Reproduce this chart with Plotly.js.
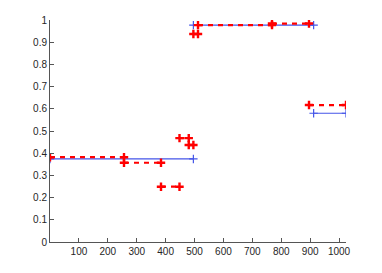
<!DOCTYPE html>
<html><head><meta charset="utf-8">
<script src="https://cdn.plot.ly/plotly-3.0.1.min.js"></script>
<style>html,body{margin:0;padding:0;background:#fff}#c{width:382px;height:273px}</style>
</head><body><div id="c"></div>
<script>
// Red (dashed) piecewise segments
const redStarts = [0, 256, 384, 448, 480, 496, 512, 768, 896];
const redEnds   = [256, 384, 448, 480, 496, 512, 768, 896, 1024];
const redValues = [0.382, 0.357, 0.249, 0.468, 0.437, 0.937, 0.977, 0.984, 0.617];
// Blue (solid) piecewise segments
const blueStarts = [0, 496, 912];
const blueEnds   = [496, 912, 1024];
const blueValues = [0.374, 0.977, 0.58];
const xTicks = [100, 200, 300, 400, 500, 600, 700, 800, 900, 1000];
const yTicks = [0, 0.1, 0.2, 0.3, 0.4, 0.5, 0.6, 0.7, 0.8, 0.9, 1];

function seg(starts, ends, vals) {
  const x = [], y = [];
  for (let i = 0; i < starts.length; i++) {
    x.push(starts[i], ends[i], null);
    y.push(vals[i], vals[i], null);
  }
  return {x, y};
}
const r = seg(redStarts, redEnds, redValues);
const b = seg(blueStarts, blueEnds, blueValues);

const traces = [
  {x: b.x, y: b.y, mode: 'lines+markers', connectgaps: false,
   line: {color: '#4455e8', width: 1.2},
   marker: {symbol: 'cross-thin-open', size: 6, line: {color: '#4455e8', width: 1.2}}},
  {x: r.x, y: r.y, mode: 'lines+markers', connectgaps: false,
   line: {color: '#ff0000', width: 2.2, dash: '5px,5px'},
   marker: {symbol: 'cross-thin-open', size: 6, color: '#ff0000', line: {color: '#ff0000', width: 2.4}}}
];
const axisCommon = {
  showline: true, linecolor: '#555', linewidth: 1, ticks: 'inside', ticklen: 4,
  tickcolor: '#555', showgrid: false, zeroline: false,
  tickfont: {family: 'Liberation Sans, Arial', size: 10, color: '#262626'}
};
const layout = {
  width: 382, height: 273, showlegend: false,
  margin: {l: 49.5, r: 36.3, t: 20, b: 31},
  paper_bgcolor: '#fff', plot_bgcolor: '#fff',
  xaxis: Object.assign({}, axisCommon, {range: [0, 1024], tickvals: xTicks, ticktext: xTicks.map(String)}),
  yaxis: Object.assign({}, axisCommon, {range: [0, 1], tickvals: yTicks, ticktext: yTicks.map(v => String(v))})
};
Plotly.newPlot('c', traces, layout, {displayModeBar: false, staticPlot: true});
</script></body></html>
